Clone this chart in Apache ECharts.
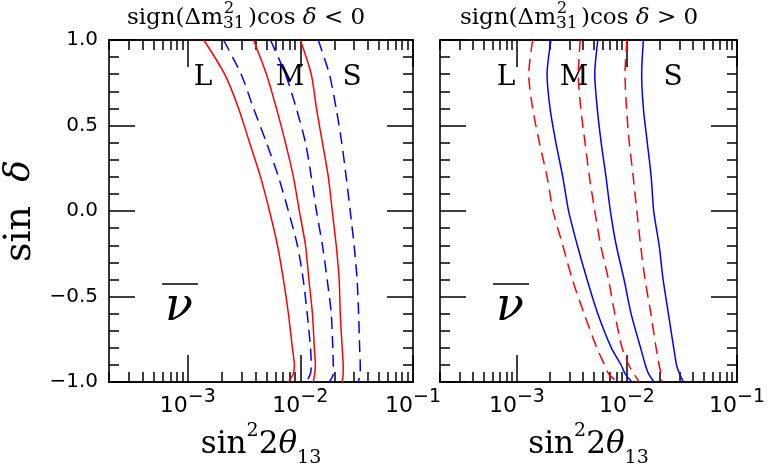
<!DOCTYPE html>
<html>
<head>
<meta charset="utf-8">
<script src="https://cdn.jsdelivr.net/npm/echarts@6/dist/echarts.min.js"></script>
<style>
  html, body { margin: 0; padding: 0; background: #fff; }
  #chart { width: 768px; height: 473px; }
</style>
</head>
<body>
<div id="chart"></div>
<script>
// sin(delta) levels, shared by every curve
const sinD = [1.0, 0.8, 0.6, 0.4, 0.2, 0.0, -0.2, -0.4, -0.6, -0.8, -0.9, -0.95, -1.0]

// left panel: sign(dm31^2) cos(delta) < 0   (red solid / blue dashed)
const negL_red = [1.39e-3, 2.13e-3, 2.83e-3, 3.54e-3, 4.43e-3, 5.32e-3, 6.26e-3, 7.07e-3, 7.83e-3, 8.49e-3, 8.85e-3, 8.67e-3, 7.83e-3]
const negL_blue = [2.08e-3, 2.98e-3, 3.84e-3, 5.00e-3, 6.39e-3, 7.83e-3, 9.41e-3, 10.6e-3, 11.5e-3, 12.3e-3, 12.5e-3, 12.3e-3, 11.3e-3]
const negM_red = [3.84e-3, 5.00e-3, 6.13e-3, 7.37e-3, 8.67e-3, 9.80e-3, 11.1e-3, 11.9e-3, 12.8e-3, 13.3e-3, 13.6e-3, 13.4e-3, 13.0e-3]
const negM_blue = [5.43e-3, 7.37e-3, 9.21e-3, 11.1e-3, 12.5e-3, 13.9e-3, 15.7e-3, 17.3e-3, 18.8e-3, 19.4e-3, 19.6e-3, 19.6e-3, 18.1e-3]
const negS_red = [10.0e-3, 12.5e-3, 13.9e-3, 15.7e-3, 17.7e-3, 19.2e-3, 20.8e-3, 22.1e-3, 22.6e-3, 23.5e-3, 24.0e-3, 24.0e-3, 23.5e-3]
const negS_blue = [14.4e-3, 18.1e-3, 20.8e-3, 23.3e-3, 25.5e-3, 27.7e-3, 30.0e-3, 31.9e-3, 32.9e-3, 33.6e-3, 34.0e-3, 34.0e-3, 32.6e-3]

// right panel: sign(dm31^2) cos(delta) > 0   (red dashed / blue solid)
const posL_red = [1.39e-3, 1.28e-3, 1.39e-3, 1.60e-3, 1.88e-3, 2.13e-3, 2.61e-3, 3.19e-3, 4.08e-3, 5.32e-3, 6.26e-3, 6.79e-3, 8.16e-3]
const posL_blue = [2.04e-3, 1.88e-3, 2.00e-3, 2.26e-3, 2.61e-3, 2.95e-3, 3.54e-3, 4.34e-3, 5.43e-3, 7.22e-3, 8.85e-3, 9.60e-3, 11.1e-3]
const posM_red = [3.76e-3, 3.61e-3, 3.80e-3, 4.16e-3, 4.56e-3, 5.10e-3, 5.77e-3, 6.79e-3, 7.75e-3, 9.03e-3, 10.4e-3, 11.5e-3, 13.0e-3]
const posM_blue = [5.43e-3, 5.10e-3, 5.37e-3, 5.83e-3, 6.45e-3, 7.07e-3, 7.99e-3, 9.41e-3, 10.9e-3, 13.3e-3, 14.7e-3, 15.7e-3, 17.7e-3]
const posS_red = [10.0e-3, 9.60e-3, 9.90e-3, 10.5e-3, 11.4e-3, 12.3e-3, 13.3e-3, 14.6e-3, 16.5e-3, 18.4e-3, 19.6e-3, 20.4e-3, 20.8e-3]
const posS_blue = [14.1e-3, 13.6e-3, 14.1e-3, 15.3e-3, 16.6e-3, 17.5e-3, 19.6e-3, 21.3e-3, 23.8e-3, 26.6e-3, 28.2e-3, 30.0e-3, 32.6e-3]

const xMin = 2e-4
const xMax = 0.1
const xMajor = [1e-3, 1e-2, 1e-1]
const xLabels = { '0.001': '−3', '0.01': '−2', '0.1': '−1' }
const xMinor = []
for (let e = -4; e <= -2; e++) {
  for (let k = 2; k <= 9; k++) xMinor.push(k * Math.pow(10, e))
}

const SERIF = 'DejaVu Serif'
const SANS = 'DejaVu Sans'
const RED = '#ff0000'
const BLUE = '#0000ff'
const DASH = [12, 7]

const axisLine = { show: true, onZero: false, lineStyle: { color: '#000', width: 1.6 } }

function xAxes(gridIndex, withName) {
  let base = {
    gridIndex: gridIndex,
    type: 'log',
    logBase: 10,
    min: xMin,
    max: xMax,
    splitLine: { show: false },
    axisLine: axisLine
  }
  let nameRich = {
    n: { fontFamily: SERIF, fontSize: 31, lineHeight: 46, color: '#000' },
    it: { fontFamily: SERIF, fontStyle: 'italic', fontSize: 31, lineHeight: 46, color: '#000' },
    sup: { fontFamily: SERIF, fontSize: 19, lineHeight: 12, verticalAlign: 'top', color: '#000' },
    sub: { fontFamily: SERIF, fontSize: 19, lineHeight: 16, verticalAlign: 'bottom', color: '#000' }
  }
  return [
    Object.assign({}, base, {
      position: 'bottom',
      name: withName ? '{n|sin}{sup|2}{n|2}{it|θ}{sub|13}' : '',
      nameLocation: 'middle',
      nameGap: 31,
      nameTextStyle: { rich: nameRich },
      axisTick: { inside: true, length: 27, customValues: xMajor, lineStyle: { color: '#000', width: 1.5 } },
      axisLabel: {
        customValues: xMajor,
        margin: 5,
        formatter: v => '{b|10}{s|' + (xLabels[String(+v.toPrecision(3))] || '') + '}',
        rich: {
          b: { fontFamily: SANS, fontSize: 22, lineHeight: 38, color: '#000' },
          s: { fontFamily: SANS, fontSize: 19, lineHeight: 16, verticalAlign: 'top', color: '#000' }
        }
      }
    }),
    Object.assign({}, base, {
      position: 'bottom',
      axisTick: { inside: true, length: 10, customValues: xMinor, lineStyle: { color: '#000', width: 1.5 } },
      axisLabel: { show: false }
    }),
    Object.assign({}, base, {
      position: 'top',
      axisTick: { inside: true, length: 27, customValues: xMajor, lineStyle: { color: '#000', width: 1.5 } },
      axisLabel: { show: false }
    }),
    Object.assign({}, base, {
      position: 'top',
      axisTick: { inside: true, length: 10, customValues: xMinor, lineStyle: { color: '#000', width: 1.5 } },
      axisLabel: { show: false }
    })
  ]
}

function yAxis(gridIndex, position, showLabel, withName) {
  return {
    gridIndex: gridIndex,
    type: 'value',
    position: position,
    min: -1,
    max: 1,
    interval: 0.5,
    splitLine: { show: false },
    axisLine: axisLine,
    axisTick: { inside: true, length: 26, lineStyle: { color: '#000', width: 1.5 } },
    minorTick: { show: true, splitNumber: 5, length: 10, lineStyle: { color: '#000', width: 1.5 } },
    axisLabel: {
      show: showLabel,
      margin: 11,
      fontFamily: SANS,
      fontSize: 20,
      color: '#000',
      formatter: v => (v < 0 ? '−' : '') + Math.abs(v).toFixed(1)
    },
    name: withName ? '{n|sin  }{it|δ}' : '',
    nameLocation: 'middle',
    nameGap: 70,
    nameTextStyle: {
      rich: {
        n: { fontFamily: SERIF, fontSize: 38, color: '#000' },
        it: { fontFamily: SERIF, fontStyle: 'italic', fontSize: 36, color: '#000' }
      }
    }
  }
}

function curve(xs, color, dashed, xi, yi) {
  return {
    type: 'line',
    xAxisIndex: xi,
    yAxisIndex: yi,
    data: xs.map((x, i) => [x, sinD[i]]),
    symbol: 'none',
    smooth: 0.25,
    silent: true,
    lineStyle: { color: color, width: 1.5, type: dashed ? DASH : 'solid' }
  }
}

function panelText(dx, sign) {
  let t = { fill: '#000', fontFamily: SERIF }
  return [
    { type: 'text', x: 223 + dx, y: 18, style: Object.assign({ text: 'sign(Δm', fontSize: 23, align: 'right', verticalAlign: 'middle' }, t) },
    { type: 'text', x: 224 + dx, y: 9, style: Object.assign({ text: '2', fontSize: 16, align: 'left', verticalAlign: 'middle' }, t) },
    { type: 'text', x: 223 + dx, y: 24, style: Object.assign({ text: '31', fontSize: 17, align: 'left', verticalAlign: 'middle' }, t) },
    {
      type: 'text', x: 248 + dx, y: 18,
      style: Object.assign({
        text: '{n|)cos }{it|δ}{n| ' + sign + ' 0}',
        verticalAlign: 'middle',
        rich: {
          n: { fontFamily: SERIF, fontSize: 23, color: '#000' },
          it: { fontFamily: SERIF, fontStyle: 'italic', fontSize: 23, color: '#000' }
        }
      }, t)
    }
  ]
}

function bandLabels(xs) {
  return ['L', 'M', 'S'].map((s, i) => ({
    type: 'text', x: xs[i], y: 78,
    style: { text: s, fontFamily: SERIF, fontSize: 28, fill: '#000', align: 'center', verticalAlign: 'middle' }
  }))
}

function nuBar(cx) {
  return [
    { type: 'line', shape: { x1: cx - 17, y1: 284, x2: cx + 19, y2: 284 }, style: { stroke: '#000', lineWidth: 1.6 } },
    { type: 'text', x: cx, y: 308, style: { text: 'ν', fontFamily: SERIF, fontStyle: 'italic', fontSize: 46, fill: '#000', align: 'center', verticalAlign: 'middle' } }
  ]
}

let option = {
  animation: false,
  backgroundColor: '#fff',
  grid: [
    { left: 108, top: 40, width: 305, height: 349 },
    { left: 440, top: 40, width: 305, height: 349 }
  ],
  xAxis: xAxes(0, true).concat(xAxes(1, true)),
  yAxis: [
    yAxis(0, 'left', true, true),
    yAxis(0, 'right', false, false),
    yAxis(1, 'left', false, false),
    yAxis(1, 'right', false, false)
  ],
  series: [
    curve(negL_red, RED, false, 0, 0),
    curve(negL_blue, BLUE, true, 0, 0),
    curve(negM_red, RED, false, 0, 0),
    curve(negM_blue, BLUE, true, 0, 0),
    curve(negS_red, RED, false, 0, 0),
    curve(negS_blue, BLUE, true, 0, 0),
    curve(posL_red, RED, true, 4, 2),
    curve(posL_blue, BLUE, false, 4, 2),
    curve(posM_red, RED, true, 4, 2),
    curve(posM_blue, BLUE, false, 4, 2),
    curve(posS_red, RED, true, 4, 2),
    curve(posS_blue, BLUE, false, 4, 2)
  ],
  graphic: [].concat(
    panelText(0, '<'),
    panelText(333, '>'),
    bandLabels([203, 290, 352]),
    bandLabels([506, 574, 673]),
    nuBar(179),
    nuBar(510)
  )
}

let myChart = echarts.init(document.getElementById('chart'), null, { renderer: 'canvas' })
myChart.setOption(option)
</script>
</body>
</html>
